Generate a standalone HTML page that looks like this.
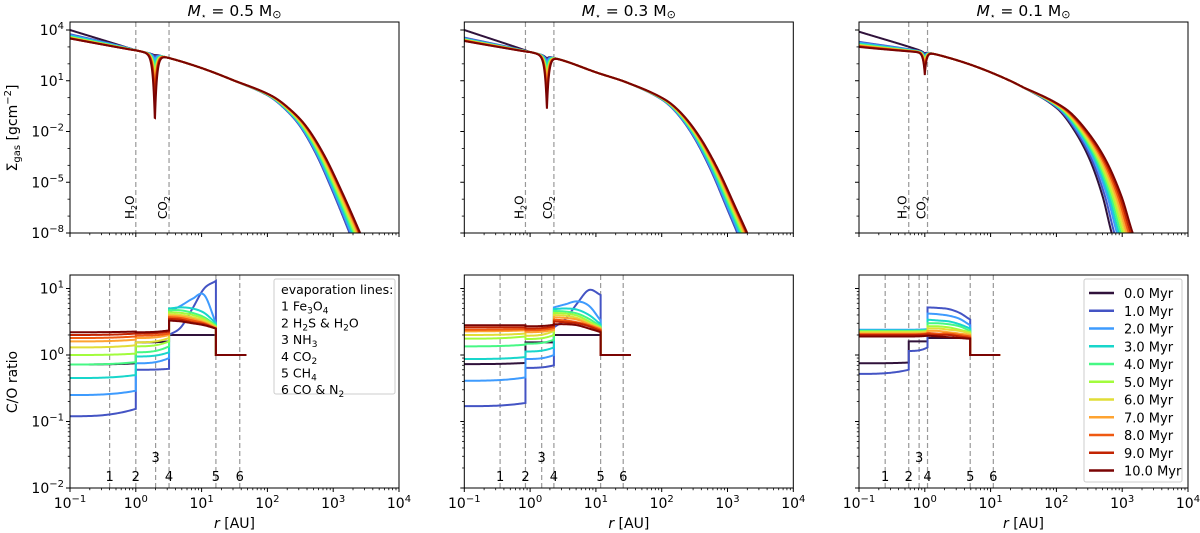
<!DOCTYPE html>
<html><head><meta charset="utf-8"><style>
body{margin:0;background:#fff}
svg{display:block;font-family:"DejaVu Sans","Liberation Sans",sans-serif}
</style></head><body>
<svg id="fig" width="1200" height="533" viewBox="0 0 1200 533" xmlns="http://www.w3.org/2000/svg"></svg>
<script>
// ---------- data ----------
const timesMyr=[0,1,2,3,4,5,6,7,8,9,10];
const colors=["#30123b","#4454c4","#3e9bfe","#18d6cb","#46f884","#a2fc3c","#e1dd37","#fea331","#ef5911","#c22402","#7a0403"];
const titles=["0.5","0.3","0.1"];
const evapAU=[[0.4,1.0,2.0,3.2,16.5,38],[0.35,0.85,1.5,2.3,11.8,26],[0.25,0.57,0.82,1.1,4.9,11]];
// top: base log-sigma profiles (log r -> log Sigma)
const baseLogR1=[-1,0,0.5,1,1.5,2,2.25,2.5,2.75,3,3.25,3.4];
const baseLogS1=[3.6,2.8,2.35,1.75,1.0,0.15,-0.6,-1.7,-3.4,-5.6,-8.0,-9.5];
const baseLogR2=[-1,0,0.5,1,1.5,2,2.25,2.5,2.75,3,3.15,3.3];
const baseLogS2=[3.5,2.7,2.2,1.5,0.85,-0.1,-1.0,-2.4,-4.3,-6.6,-8,-9.5];
const baseLogR3=[-1,0,0.5,1,1.5,2,2.25,2.5,2.7,2.84,3.0];
const baseLogS3=[3.3,2.7,2.2,1.5,0.6,-0.6,-1.8,-3.6,-5.8,-8,-10];
const baseCut=[3.25,3.15,2.84];
const innerLogS=[[4.0,3.75,3.7,3.65,3.6,3.58,3.55,3.53,3.52,3.5,3.5],[4.0,3.55,3.5,3.47,3.45,3.43,3.41,3.4,3.38,3.36,3.35],[3.9,3.3,3.25,3.2,3.15,3.12,3.1,3.07,3.05,3.02,3.0]];
const cutLogR=[[3.25,3.25,3.27,3.29,3.31,3.33,3.35,3.37,3.39,3.4,3.41],[3.15,3.15,3.17,3.19,3.21,3.23,3.25,3.26,3.28,3.29,3.30],[2.84,2.88,2.92,2.95,2.98,3.01,3.04,3.07,3.10,3.13,3.16]];
const dipCenterAU=[1.95,1.8,1.0];
const dipLogS=[[2.5,2.4,2.2,1.9,1.6,1.3,1.0,0.6,0.2,-0.3,-1.45],[2.3,2.2,2.0,1.8,1.5,1.2,0.9,0.6,0.2,-0.2,-0.73],[2.6,2.5,2.4,2.3,2.2,2.1,2.0,1.85,1.7,1.5,1.34]];
// bottom: C/O zones
const zoneEdgeAU=[[0.1,1.0,3.2,16.5,48],[0.1,0.85,2.3,11.8,34],[0.1,0.57,1.1,4.9,14]];
const zone1CO=[
 [[0.72,0.75],[0.12,0.155],[0.25,0.29],[0.45,0.5],[0.72,0.78],[1.0,1.05],[1.3,1.4],[1.6,1.7],[1.8,1.9],[2.0,2.1],[2.2,2.25]],
 [[0.73,0.76],[0.17,0.19],[0.41,0.46],[0.87,0.93],[1.35,1.43],[1.76,1.9],[2.0,2.1],[2.27,2.35],[2.4,2.45],[2.6,2.6],[2.8,2.8]],
 [[0.75,0.77],[0.52,0.6],[2.4,2.4],[2.35,2.35],[2.3,2.3],[2.25,2.25],[2.2,2.2],[2.1,2.1],[2.05,2.05],[2.0,2.0],[1.9,1.9]]];
const zone2CO=[
 [[1.55,1.6],[0.6,0.62],[0.75,0.9],[0.95,1.1],[1.1,1.35],[1.35,1.6],[1.55,1.8],[1.8,2.0],[1.95,2.1],[2.1,2.25],[2.2,2.35]],
 [[1.55,1.55],[0.64,0.7],[0.87,1.0],[1.13,1.3],[1.48,1.7],[1.74,2.0],[1.95,2.3],[2.2,2.4],[2.35,2.55],[2.5,2.7],[2.7,2.85]],
 [[1.6,1.6],[1.15,1.3],[2.4,2.45],[2.35,2.4],[2.3,2.35],[2.25,2.3],[2.2,2.25],[2.1,2.15],[2.05,2.1],[2.0,2.05],[1.9,1.95]]];
const zone3CO=[
 [[2,2,2,2,2],[2.0,2.6,5,10,13],[4.5,5.5,7,8,3],[5,5.2,5,4.3,3],[4.7,4.7,4.3,3.7,2.8],[4.4,4.3,4,3.5,2.7],[4.1,4.0,3.7,3.3,2.6],[3.9,3.8,3.5,3.1,2.6],[3.7,3.6,3.3,3.0,2.5],[3.5,3.4,3.1,2.9,2.5],[3.3,3.2,3.0,2.8,2.5]],
 [[2,2,2,2,2],[2.6,3.5,6,9.5,8],[5.2,5.8,6.4,5.5,3.3],[4.9,5.0,4.8,4.0,2.9],[4.6,4.5,4.2,3.5,2.7],[4.3,4.2,3.9,3.2,2.6],[4.0,3.9,3.6,3.0,2.5],[3.7,3.6,3.4,2.9,2.5],[3.4,3.3,3.1,2.8,2.4],[3.2,3.1,3.0,2.7,2.3],[2.9,2.9,2.8,2.5,2.2]],
 [[1.8,1.8,1.8,1.8,1.8],[5.2,5.1,4.9,4.3,3.4],[4.2,4.1,3.9,3.5,2.8],[3.4,3.3,3.2,2.9,2.5],[3.0,3.0,2.9,2.7,2.3],[2.7,2.7,2.6,2.4,2.2],[2.5,2.5,2.4,2.3,2.1],[2.3,2.3,2.2,2.1,2.0],[2.15,2.1,2.1,2.0,1.9],[2.05,2.0,2.0,1.9,1.8],[1.95,1.9,1.85,1.8,1.75]]];
const zone4CO=[1,1,1];
const xTickLabels=["-1","0","1","2","3","4"];

// ---------- layout ----------
const NS="http://www.w3.org/2000/svg";
const svg=document.getElementById('fig');
const PX=[70,464.3,859], PW=329;
const TOP={y0:22,y1:233}, BOT={y0:275,y1:488};
const xs=(p,lr)=>PX[p]+(lr+1)*PW/5;
const yTop=ls=>233-(ls+8)*(203/12);
const yBot=lc=>355-lc*66.5;
function el(tag,attrs,parent){const e=document.createElementNS(NS,tag);for(const k in attrs)e.setAttribute(k,attrs[k]);(parent||svg).appendChild(e);return e;}
// smooth (Catmull-Rom) interpolation with linear extrapolation
function interp(X,Y,x){const n=X.length;
  if(x<=X[0])return Y[0]+(Y[1]-Y[0])/(X[1]-X[0])*(x-X[0]);
  if(x>=X[n-1])return Y[n-1]+(Y[n-1]-Y[n-2])/(X[n-1]-X[n-2])*(x-X[n-1]);
  let i=1;while(x>X[i])i++;
  const x0=X[i-1],x1=X[i],y0=Y[i-1],y1=Y[i];const h=x1-x0;
  const m0=i>1?(Y[i]-Y[i-2])/(X[i]-X[i-2]):(y1-y0)/h;
  const m1=i<n-1?(Y[i+1]-Y[i-1])/(X[i+1]-X[i-1]):(y1-y0)/h;
  const t=(x-x0)/h,t2=t*t,t3=t2*t;
  return (2*t3-3*t2+1)*y0+(t3-2*t2+t)*h*m0+(-2*t3+3*t2)*y1+(t3-t2)*h*m1;}
function sup(t,base,exp){t.appendChild(document.createTextNode(base));const s=document.createElementNS(NS,'tspan');s.setAttribute('dy','-6');s.setAttribute('font-size','10');s.textContent=exp;t.appendChild(s);}
const baseR=[baseLogR1,baseLogR2,baseLogR3], baseS=[baseLogS1,baseLogS2,baseLogS3];

function sigma(p,t,lr){
  let l=lr;
  if(lr>1.5) l=1.5+(lr-1.5)*(baseCut[p]-1.5)/(cutLogR[p][t]-1.5);
  let v=interp(baseR[p],baseS[p],l);
  if(lr<0){const f=-lr;v+=(innerLogS[p][t]-interp(baseR[p],baseS[p],-1))*(t==0?f:Math.pow(f,0.6));}
  const d=Math.abs(lr-Math.log10(dipCenterAU[p]));
  const tg=dipLogS[p][t];
  if(tg<v) v=v-(v-tg)*Math.exp(-d/(p==2?0.025:0.03));
  return v;
}

for(let p=0;p<3;p++){
  const defs=el('defs',{});
  const c1=el('clipPath',{id:'ct'+p},defs); el('rect',{x:PX[p],y:TOP.y0,width:PW,height:TOP.y1-TOP.y0},c1);
  const c2=el('clipPath',{id:'cb'+p},defs); el('rect',{x:PX[p],y:BOT.y0,width:PW,height:BOT.y1-BOT.y0},c2);

  const tt=el('text',{x:PX[p]+PW/2,y:16,'text-anchor':'middle','font-size':'15.5'});
  
  
  tt.innerHTML='<tspan font-style="italic">M</tspan><tspan font-size="9" dy="3">⋆</tspan><tspan dy="-3"> = '+titles[p]+' M</tspan><tspan font-size="11" dy="2">⊙</tspan>';

  // ---- top panel ----
  const gT=el('g',{'clip-path':'url(#ct'+p+')'});
  
  
  [1,3].forEach(k=>{const x=xs(p,Math.log10(evapAU[p][k]));
    const ln=el('line',{x1:x,x2:x,y1:TOP.y0,y2:TOP.y1,stroke:'#999','stroke-width':1.2,'stroke-dasharray':'5,3'},gT);
    
    
    const lb=el('text',{x:0,y:0,'font-size':'12',transform:'translate('+(x-2)+',219) rotate(-90)'});
    
    
    lb.innerHTML=k==1?'H<tspan font-size="8" dy="3">2</tspan><tspan dy="-3">O</tspan>':'CO<tspan font-size="8" dy="3">2</tspan>';
  });
  timesMyr.forEach((tm,t)=>{
    let pts=[];
    for(let lr=-1;lr<=4;lr+=0.004){const v=sigma(p,t,lr);pts.push(xs(p,lr).toFixed(2)+','+yTop(Math.max(v,-9)).toFixed(2));if(v<-9)break;}
    const pl=el('polyline',{points:pts.join(' '),fill:'none',stroke:colors[t],'stroke-width':2},gT);
    
    
  });
  const fT=el('rect',{x:PX[p],y:TOP.y0,width:PW,height:TOP.y1-TOP.y0,fill:'none',stroke:'#000','stroke-width':1});
  
  
  for(let d=-1;d<=4;d++){const x=xs(p,d);el('line',{x1:x,x2:x,y1:TOP.y1,y2:TOP.y1+4,stroke:'#000'});
    if(d<4)for(let m=2;m<10;m++){const xm=xs(p,d+Math.log10(m));el('line',{x1:xm,x2:xm,y1:TOP.y1,y2:TOP.y1+2.2,stroke:'#000','stroke-width':0.8});}}
  for(let d=-8;d<=4;d++){const y=yTop(d);el('line',{x1:PX[p]-(d%3==-2||d%3==1?4:2.5),x2:PX[p],y1:y,y2:y,stroke:'#000','stroke-width':(d%3==-2||d%3==1)?1:0.8});}
  if(p==0){[4,1,-2,-5,-8].forEach(d=>{const t=el('text',{x:PX[0]-6,y:yTop(d)+5,'text-anchor':'end','font-size':'14'});
    
    
    sup(t,'10',d<0?'−'+(-d):String(d));});}

  // ---- bottom panel ----
  const gB=el('g',{'clip-path':'url(#cb'+p+')'});
  
  
  evapAU[p].forEach((a,k)=>{const x=xs(p,Math.log10(a));
    const ln=el('line',{x1:x,x2:x,y1:BOT.y0,y2:BOT.y1,stroke:'#999','stroke-width':1.2,'stroke-dasharray':'5,3'},gB);
    
    
    const lb=el('text',{x:x,y:k==2?462:481,'text-anchor':'middle','font-size':'13'});
    
    
    lb.textContent=String(k+1);
  });
  const ze=zoneEdgeAU[p].map(Math.log10);
  timesMyr.forEach((tm,t)=>{
    let pts=[];
    const push=(lr,c)=>pts.push(xs(p,lr).toFixed(2)+','+yBot(Math.log10(c)).toFixed(2));
    const N=40;
    for(let i=0;i<=N;i++){const f=i/N;const [a,b]=zone1CO[p][t];push(ze[0]+f*(ze[1]-ze[0]),a+(b-a)*f*f*f);}
    for(let i=0;i<=N;i++){const f=i/N;const [a,b]=zone2CO[p][t];push(ze[1]+f*(ze[2]-ze[1]),a+(b-a)*f*f*f);}
    const z3=zone3CO[p][t];const X3=[0,1,2,3,4].map(i=>ze[2]+(ze[3]-ze[2])*i/4);const L3=z3.map(Math.log10);
    for(let i=0;i<=N;i++){const lr=ze[2]+i/N*(ze[3]-ze[2]);push(lr,Math.pow(10,interp(X3,L3,lr)));}
    push(ze[3],zone4CO[p]);push(ze[4],zone4CO[p]);
    const pl=el('polyline',{points:pts.join(' '),fill:'none',stroke:colors[t],'stroke-width':2,'stroke-linejoin':'miter'},gB);
    
    
  });
  const fB=el('rect',{x:PX[p],y:BOT.y0,width:PW,height:BOT.y1-BOT.y0,fill:'none',stroke:'#000','stroke-width':1});
  
  
  for(let d=-1;d<=4;d++){const x=xs(p,d);el('line',{x1:x,x2:x,y1:BOT.y1,y2:BOT.y1+4,stroke:'#000'});
    if(d<4)for(let m=2;m<10;m++){const xm=xs(p,d+Math.log10(m));el('line',{x1:xm,x2:xm,y1:BOT.y1,y2:BOT.y1+2.2,stroke:'#000','stroke-width':0.8});}
    const t=el('text',{x:x,y:508,'text-anchor':'middle','font-size':'14'});
    
    
    const e=xTickLabels[d+1];sup(t,'10',e.startsWith('-')?'−'+e.slice(1):e);}
  const xl=el('text',{x:PX[p]+PW/2,y:528,'text-anchor':'middle','font-size':'14'});
  
  
  xl.innerHTML='<tspan font-style="italic">r</tspan> [AU]';
  for(let d=-2;d<=1;d++){const y=yBot(d);el('line',{x1:PX[p]-4,x2:PX[p],y1:y,y2:y,stroke:'#000'});
    for(let m=2;m<10;m++){const ym=yBot(d+Math.log10(m));if(ym<BOT.y0)break;el('line',{x1:PX[p]-2.2,x2:PX[p],y1:ym,y2:ym,stroke:'#000','stroke-width':0.8});}}
  if(p==0){[1,0,-1,-2].forEach(d=>{const t=el('text',{x:PX[0]-6,y:yBot(d)+5,'text-anchor':'end','font-size':'14'});
    
    
    sup(t,'10',d<0?'−'+(-d):String(d));});}
}
const yl1=el('text',{x:0,y:0,'text-anchor':'middle','font-size':'14',transform:'translate(17,128) rotate(-90)'});


yl1.innerHTML='Σ<tspan font-size="10" dy="3">gas</tspan><tspan dy="-3"> [gcm</tspan><tspan font-size="10" dy="-6">−2</tspan><tspan dy="6">]</tspan>';
const yl2=el('text',{x:0,y:0,'text-anchor':'middle','font-size':'14',transform:'translate(17,382) rotate(-90)'});


yl2.textContent='C/O ratio';

const eg=el('g',{});


el('rect',{x:274,y:279,width:121,height:115,fill:'#fff',stroke:'#ccc','stroke-width':1,rx:2},eg);
const evLines=['evaporation lines:','1 Fe<tspan font-size="9" dy="3">3</tspan><tspan dy="-3">O</tspan><tspan font-size="9" dy="3">4</tspan>','2 H<tspan font-size="9" dy="3">2</tspan><tspan dy="-3">S &amp; H</tspan><tspan font-size="9" dy="3">2</tspan><tspan dy="-3">O</tspan>','3 NH<tspan font-size="9" dy="3">3</tspan>','4 CO<tspan font-size="9" dy="3">2</tspan>','5 CH<tspan font-size="9" dy="3">4</tspan>','6 CO &amp; N<tspan font-size="9" dy="3">2</tspan>'];
evLines.forEach((s,i)=>{const t=el('text',{x:281,y:294+i*16.7,'font-size':'12.5'},eg);
  
  
  t.innerHTML=s;});

const lg=el('g',{});


el('rect',{x:1084,y:279,width:98,height:203,fill:'#fff',stroke:'#ccc','stroke-width':1,rx:2},lg);
timesMyr.forEach((tm,t)=>{const y=293+t*17.75;
  const g=el('g',{},lg);
  
  
  el('line',{x1:1089,x2:1114,y1:y,y2:y,stroke:colors[t],'stroke-width':2.5},g);
  const tx=el('text',{x:1124,y:y+5,'font-size':'13'},g);
  tx.textContent=tm.toFixed(1)+' Myr';});
</script>
</body></html>
